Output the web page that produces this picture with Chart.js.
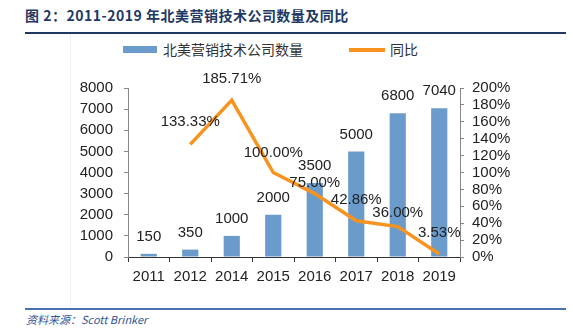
<!DOCTYPE html>
<html>
<head>
<meta charset="utf-8">
<script src="https://cdn.jsdelivr.net/npm/chart.js@4/dist/chart.umd.min.js"></script>
<style>
  body { margin: 0; width: 573px; height: 328px; background: #fff; position: relative; overflow: hidden; }
  #titulo { position: absolute; left: 25px; top: 5px; font: bold 14px "Noto Sans CJK SC", sans-serif; color: #1F3864; letter-spacing: 0.5px; white-space: nowrap; }
  #linea1 { position: absolute; left: 25px; top: 32px; width: 541px; height: 2px; background: #1F3864; }
  #linea2 { position: absolute; left: 25px; top: 308px; width: 541px; height: 2px; background: #4A6FB5; }
  #vline { position: absolute; left: 70px; top: 34px; width: 1px; height: 274px; background: #f0f0f0; }
  #fuente { position: absolute; left: 26px; top: 311px; font: italic 11px "Noto Sans CJK SC", sans-serif; color: #2F5597; white-space: nowrap; }
  #leyenda { position: absolute; top: 40px; left: 123px; font: 14px "Noto Sans CJK SC", sans-serif; color: #333; white-space: nowrap; }
  .item { position: absolute; top: 0; height: 18px; line-height: 18px; }
  .caja { position: absolute; top: 6px; left: 0; width: 34px; height: 7px; background: #6A9BCB; }
  .raya { position: absolute; top: 8px; left: 0; width: 36px; height: 4px; background: #F7931E; }
  #wrap { position: absolute; left: 0; top: 0; width: 573px; height: 300px; }
</style>
</head>
<body>
<div id="vline"></div>
<div id="titulo">图 2：2011-2019 年北美营销技术公司数量及同比</div>
<div id="linea1"></div>
<div id="leyenda"></div>
<div id="wrap"><canvas id="grafico"></canvas></div>
<div id="linea2"></div>
<div id="fuente">资料来源：Scott Brinker</div>
<script>
const anios = ['2011', '2012', '2014', '2015', '2016', '2017', '2018', '2019'];
const empresas = [150, 350, 1000, 2000, 3500, 5000, 6800, 7040];
const crecimiento = [null, 133.33, 185.71, 100.00, 75.00, 42.86, 36.00, 3.53];
const nombreBarras = '北美营销技术公司数量';
const nombreLinea = '同比';

const azul = '#6A9BCB';
const naranja = '#F7931E';
const fuenteNum = '"Liberation Sans", Arial, sans-serif';

// leyenda en html
const leyenda = document.getElementById('leyenda');
leyenda.innerHTML =
  '<div class="item" style="left:0"><span class="caja"></span><span style="margin-left:40px">' + nombreBarras + '</span></div>' +
  '<div class="item" style="left:226px"><span class="raya"></span><span style="margin-left:41px">' + nombreLinea + '</span></div>';

// separacion de las etiquetas de porcentaje sobre el punto
const desplazLinea = [21, 22, 21, 20, 11, 21, 14, 21];

const etiquetas = {
  id: 'etiquetas',
  afterDatasetsDraw(chart) {
    const ctx = chart.ctx;
    ctx.save();
    ctx.font = '15px ' + fuenteNum;
    ctx.fillStyle = '#222';
    ctx.textAlign = 'center';
    ctx.textBaseline = 'middle';
    chart.data.datasets.forEach((ds, d) => {
      const meta = chart.getDatasetMeta(d);
      meta.data.forEach((el, i) => {
        if (ds.type === 'bar') {
          ctx.fillText(String(empresas[i]), el.x, el.y - 17);
        } else if (crecimiento[i] != null) {
          ctx.fillText(crecimiento[i].toFixed(2) + '%', el.x, el.y - desplazLinea[i]);
        }
      });
    });
    ctx.restore();
  }
};

const ctx = document.getElementById('grafico').getContext('2d');
new Chart(ctx, {
  data: {
    labels: anios,
    datasets: [
      {
        type: 'line',
        label: nombreLinea,
        data: crecimiento,
        yAxisID: 'y1',
        borderColor: naranja,
        borderWidth: 3.5,
        pointRadius: 0,
        tension: 0,
        fill: false,
        order: 0
      },
      {
        type: 'bar',
        label: nombreBarras,
        data: empresas,
        yAxisID: 'y',
        backgroundColor: azul,
        barPercentage: 0.39,
        categoryPercentage: 1,
        order: 1
      }
    ]
  },
  options: {
    responsive: true,
    maintainAspectRatio: false,
    animation: false,
    layout: { padding: { left: 0, right: 53, top: 88, bottom: 18 } },
    plugins: {
      legend: { display: false },
      tooltip: { enabled: false }
    },
    scales: {
      x: {
        afterFit: s => { s.height = 25; },
        grid: { display: true, offset: true, drawOnChartArea: false, tickLength: 5, color: '#333' },
        border: { color: '#333', width: 1 },
        ticks: { color: '#222', font: { family: fuenteNum, size: 15 }, padding: 6, maxRotation: 0 }
      },
      y: {
        position: 'left',
        min: 0, max: 8000,
        afterFit: s => { s.width = 128; },
        grid: { drawOnChartArea: false, tickLength: 4, color: '#888' },
        border: { color: '#888', width: 1 },
        ticks: { stepSize: 1000, autoSkip: false, color: '#222', font: { family: fuenteNum, size: 15 }, padding: 11,
                 callback: v => String(v) }
      },
      y1: {
        position: 'right',
        min: 0, max: 200,
        afterFit: s => { s.width = 60; },
        grid: { drawOnChartArea: false, tickLength: 4, color: '#888' },
        border: { color: '#888', width: 1 },
        ticks: { stepSize: 20, autoSkip: false, color: '#222', font: { family: fuenteNum, size: 15 }, padding: 8,
                 callback: v => v + '%' }
      }
    }
  },
  plugins: [etiquetas]
});
</script>
</body>
</html>
